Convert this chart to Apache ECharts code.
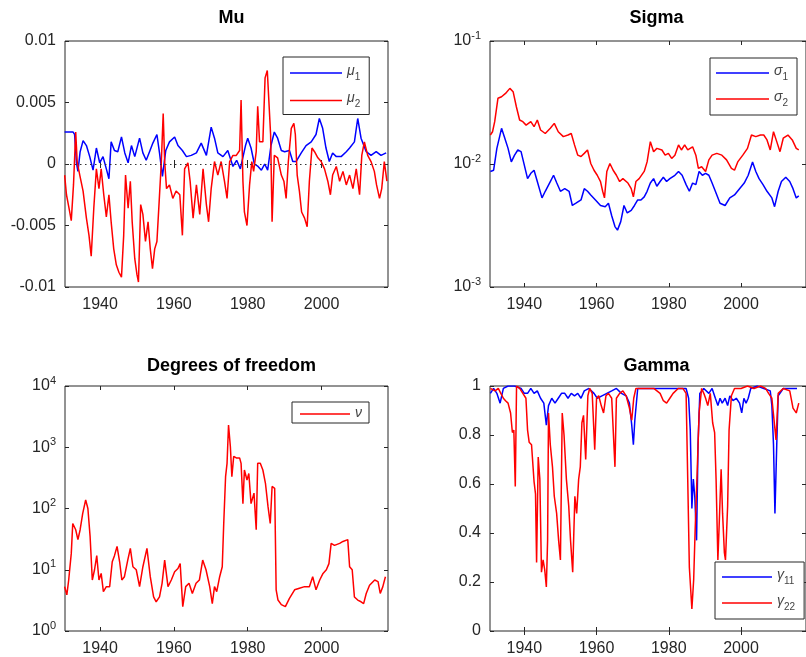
<!DOCTYPE html>
<html>
<head>
<meta charset="utf-8">
<script src="https://cdn.jsdelivr.net/npm/echarts@6/dist/echarts.min.js"></script>
<style>
html, body { margin: 0; padding: 0; background: #fff; }
#chart { width: 806px; height: 657px; }
</style>
</head>
<body>
<div id="chart"></div>
<script>
// x 轴刻度
const yearTicks = [1940, 1960, 1980, 2000]

// Mu
const mu1 = [[1930.4,0.0026],[1932.7,0.0026],[1933.1,0.0024],[1933.6,0.0001],[1934.0,-0.0006],[1934.6,0.0010],[1935.4,0.0019],[1936.3,0.0015],[1937.2,0.0006],[1938.1,-0.0005],[1939.0,0.0013],[1939.9,0.0001],[1940.8,0.0006],[1941.7,-0.0004],[1942.4,-0.0012],[1943.0,0.0018],[1943.9,0.0011],[1944.8,0.0010],[1945.8,0.0022],[1946.7,0.0009],[1947.6,0.0001],[1948.5,0.0015],[1949.4,0.0006],[1950.7,0.0021],[1951.6,0.0009],[1952.5,0.0003],[1953.4,0.0010],[1954.3,0.0017],[1955.4,0.0024],[1956.1,0.0009],[1956.9,-0.0010],[1957.8,0.0011],[1958.8,0.0018],[1960.2,0.0022],[1961.1,0.0015],[1962.3,0.0011],[1963.4,0.0006],[1964.7,0.0007],[1966.1,0.0009],[1967.4,0.0017],[1968.8,0.0007],[1970.1,0.0030],[1971.0,0.0021],[1971.9,0.0009],[1973.3,0.0006],[1974.6,0.0011],[1975.1,0.0010],[1976.0,-0.0002],[1977.0,0.0003],[1978.0,-0.0004],[1979.4,0.0015],[1980.0,0.0021],[1980.9,0.0013],[1981.8,0.0000],[1982.8,-0.0002],[1983.7,-0.0005],[1984.6,0.0000],[1985.4,-0.0005],[1986.3,0.0015],[1987.2,0.0026],[1988.1,0.0021],[1989.1,0.0011],[1990.0,0.0010],[1991.3,0.0011],[1992.2,0.0002],[1993.1,0.0002],[1994.5,0.0009],[1995.8,0.0015],[1997.2,0.0018],[1998.5,0.0024],[1999.4,0.0037],[2000.3,0.0029],[2001.2,0.0013],[2002.1,0.0002],[2003.0,0.0009],[2004.0,0.0006],[2005.3,0.0006],[2006.7,0.0010],[2007.6,0.0013],[2008.9,0.0018],[2009.8,0.0037],[2010.7,0.0021],[2012.1,0.0010],[2013.4,0.0007],[2014.8,0.0010],[2016.1,0.0007],[2017.5,0.0009]]
const mu2 = [[1930.4,-0.0009],[1930.9,-0.0025],[1931.6,-0.0036],[1932.2,-0.0046],[1932.8,-0.0017],[1933.4,0.0026],[1933.8,0.0002],[1934.5,-0.0009],[1935.4,-0.0022],[1936.3,-0.0044],[1937.0,-0.0058],[1937.6,-0.0075],[1938.3,-0.0036],[1939.0,-0.0004],[1939.7,-0.0020],[1940.3,-0.0004],[1941.0,-0.0025],[1941.7,-0.0043],[1942.4,-0.0025],[1943.0,-0.0047],[1943.7,-0.0069],[1944.4,-0.0082],[1945.1,-0.0088],[1945.8,-0.0092],[1946.4,-0.0058],[1946.9,-0.0009],[1947.6,-0.0036],[1948.2,-0.0014],[1948.7,-0.0047],[1949.4,-0.0077],[1950.0,-0.0090],[1950.4,-0.0096],[1951.0,-0.0033],[1951.6,-0.0041],[1952.3,-0.0063],[1953.0,-0.0047],[1953.6,-0.0069],[1954.2,-0.0085],[1954.8,-0.0069],[1955.4,-0.0063],[1956.0,-0.0031],[1956.6,0.0002],[1957.1,0.0041],[1957.5,0.0002],[1958.0,-0.0020],[1958.8,-0.0017],[1959.7,-0.0028],[1960.6,-0.0022],[1961.6,-0.0025],[1962.3,-0.0058],[1962.9,-0.0004],[1963.8,0.0001],[1964.4,-0.0014],[1965.2,-0.0044],[1966.1,-0.0017],[1967.0,-0.0041],[1967.9,-0.0004],[1968.8,-0.0033],[1969.4,-0.0047],[1970.1,-0.0020],[1971.0,0.0002],[1971.9,-0.0009],[1972.8,0.0002],[1973.7,-0.0014],[1974.4,-0.0028],[1975.1,0.0002],[1976.0,0.0007],[1976.9,0.0007],[1977.8,0.0011],[1978.2,0.0052],[1978.7,-0.0014],[1979.1,-0.0039],[1979.8,-0.0050],[1980.5,-0.0017],[1981.1,0.0002],[1981.6,-0.0006],[1982.3,0.0010],[1982.7,0.0047],[1983.2,0.0018],[1984.1,0.0018],[1984.7,0.0070],[1985.3,0.0076],[1985.8,0.0076],[1986.2,0.0024],[1986.6,-0.0047],[1987.2,0.0007],[1988.1,0.0005],[1989.1,-0.0009],[1989.8,-0.0014],[1990.4,-0.0028],[1991.0,0.0002],[1991.8,0.0029],[1992.5,0.0033],[1992.9,0.0024],[1993.4,-0.0009],[1994.0,-0.0022],[1994.6,-0.0039],[1995.4,-0.0044],[1996.1,-0.0051],[1996.7,-0.0014],[1997.4,0.0013],[1998.1,0.0010],[1999.0,0.0005],[1999.9,0.0002],[2000.8,-0.0004],[2001.7,-0.0014],[2002.4,-0.0025],[2003.0,-0.0009],[2004.0,-0.0002],[2004.9,-0.0014],[2005.8,-0.0006],[2006.7,-0.0017],[2007.6,-0.0009],[2008.5,-0.0020],[2009.4,-0.0004],[2010.3,-0.0025],[2010.9,0.0007],[2011.6,0.0018],[2012.5,0.0007],[2013.4,0.0002],[2014.3,-0.0006],[2014.9,-0.0017],[2015.7,-0.0028],[2016.3,-0.0020],[2017.0,0.0002],[2017.7,-0.0014]]

// Sigma
const sigma1 = [[1930.6,0.0087],[1931.5,0.0089],[1932.4,0.0134],[1933.7,0.0195],[1934.6,0.0162],[1935.5,0.0134],[1936.4,0.0104],[1937.3,0.0118],[1938.2,0.0130],[1939.1,0.0126],[1940.0,0.0098],[1940.9,0.0076],[1941.8,0.0084],[1942.7,0.0089],[1943.6,0.0072],[1944.9,0.0053],[1945.8,0.0060],[1947.2,0.0072],[1948.1,0.0081],[1949.0,0.0070],[1950.0,0.0060],[1951.2,0.0063],[1952.4,0.0060],[1953.3,0.0046],[1954.3,0.0048],[1955.7,0.0051],[1956.6,0.0063],[1957.5,0.0060],[1958.4,0.0056],[1959.7,0.0051],[1961.1,0.0046],[1962.4,0.0045],[1963.3,0.0048],[1964.2,0.0038],[1965.1,0.0031],[1965.8,0.0029],[1966.7,0.0034],[1967.6,0.0046],[1968.5,0.0040],[1969.6,0.0042],[1970.5,0.0046],[1971.4,0.0051],[1972.3,0.0051],[1973.2,0.0054],[1974.0,0.0060],[1974.9,0.0070],[1975.8,0.0076],[1976.7,0.0066],[1977.6,0.0072],[1978.5,0.0078],[1979.4,0.0072],[1980.3,0.0076],[1981.7,0.0081],[1982.7,0.0087],[1983.7,0.0081],[1984.8,0.0068],[1985.7,0.0060],[1986.6,0.0070],[1987.5,0.0068],[1988.4,0.0087],[1989.3,0.0081],[1990.2,0.0084],[1991.1,0.0081],[1992.0,0.0070],[1992.9,0.0060],[1994.2,0.0048],[1995.6,0.0046],[1996.9,0.0053],[1998.2,0.0056],[1999.6,0.0063],[2000.9,0.0070],[2002.0,0.0081],[2003.2,0.0104],[2004.1,0.0087],[2005.0,0.0076],[2006.1,0.0068],[2007.2,0.0060],[2008.55,0.0053],[2009.3,0.0045],[2010.3,0.0060],[2011.2,0.0072],[2012.4,0.0078],[2013.5,0.0072],[2014.4,0.0063],[2015.3,0.0053],[2016.0,0.0055]]
const sigma2 = [[1930.6,0.0172],[1931.2,0.0183],[1931.8,0.0221],[1932.7,0.0342],[1933.7,0.0352],[1934.8,0.0375],[1936.0,0.0412],[1936.9,0.0387],[1937.8,0.0292],[1938.7,0.0228],[1939.6,0.0221],[1940.5,0.0207],[1941.8,0.0221],[1942.7,0.0201],[1943.6,0.0228],[1944.5,0.0189],[1945.8,0.0177],[1947.2,0.0195],[1948.3,0.0214],[1949.4,0.0183],[1950.8,0.0167],[1952.1,0.0172],[1953.0,0.0177],[1953.9,0.0143],[1954.8,0.0118],[1955.7,0.0115],[1956.6,0.0122],[1957.5,0.0130],[1958.4,0.0101],[1959.3,0.0089],[1960.2,0.0081],[1961.1,0.0072],[1961.7,0.0060],[1962.2,0.0053],[1962.85,0.0087],[1963.7,0.0101],[1964.6,0.0089],[1965.5,0.0081],[1966.4,0.0072],[1967.3,0.0076],[1968.7,0.0070],[1969.6,0.0063],[1970.2,0.0054],[1970.9,0.0072],[1971.8,0.0076],[1973.2,0.0087],[1974.0,0.0104],[1974.9,0.0152],[1975.8,0.0126],[1976.7,0.0134],[1978.1,0.0130],[1979.0,0.0118],[1979.9,0.0122],[1980.8,0.0111],[1981.7,0.0118],[1982.7,0.0143],[1983.5,0.0130],[1984.4,0.0143],[1985.25,0.0130],[1986.6,0.0138],[1987.5,0.0118],[1988.2,0.0092],[1989.1,0.0095],[1990.2,0.0087],[1991.1,0.0108],[1992.0,0.0118],[1993.3,0.0122],[1994.7,0.0118],[1996.0,0.0108],[1997.35,0.0092],[1998.2,0.0089],[1999.1,0.0104],[2000.5,0.0118],[2001.8,0.0134],[2002.9,0.0172],[2004.1,0.0167],[2005.4,0.0172],[2006.3,0.0172],[2007.2,0.0157],[2008.1,0.0130],[2009.0,0.0183],[2009.9,0.0152],[2010.8,0.0126],[2011.7,0.0162],[2013.0,0.0172],[2014.2,0.0157],[2015.3,0.0134],[2016.0,0.0130]]

// Degrees of freedom
const nu = [[1930.4,5.3],[1931.0,3.9],[1931.5,6.8],[1932.2,18.5],[1932.6,57],[1933.4,45],[1934.0,31],[1934.6,45],[1935.3,83],[1936.1,138],[1936.7,100],[1937.3,35],[1937.9,6.8],[1938.5,10],[1939.1,17],[1939.7,6.8],[1940.3,8.7],[1940.9,4.4],[1941.7,5.3],[1942.6,5.3],[1943.3,13.5],[1943.9,17],[1944.6,24],[1945.3,13.5],[1945.9,6.8],[1946.6,7.7],[1947.5,14.4],[1948.2,22.4],[1948.9,11.2],[1949.8,10],[1950.7,5.3],[1951.6,11.2],[1952.7,22.4],[1953.6,7.7],[1954.5,3.6],[1955.2,3.0],[1956.1,3.6],[1956.8,6.0],[1957.5,14.4],[1958.4,5.3],[1959.3,6.8],[1960.2,9.3],[1961.1,10.5],[1961.7,12.6],[1962.4,2.5],[1963.2,5.3],[1964.1,6.0],[1965.0,4.1],[1966.0,6.0],[1966.9,6.8],[1967.8,14.4],[1968.7,10],[1969.7,5.3],[1970.4,2.8],[1971.0,5.3],[1971.6,4.4],[1972.4,7.7],[1973.1,11.2],[1973.5,57],[1974.0,331],[1974.4,546],[1974.8,2300],[1975.3,1020],[1975.7,331],[1976.2,710],[1976.9,670],[1977.8,670],[1978.2,546],[1978.7,120],[1979.1,425],[1979.8,292],[1980.3,372],[1980.9,120],[1981.7,178],[1982.3,45],[1982.7,546],[1983.4,546],[1984.1,425],[1984.8,258],[1985.5,107],[1986.1,57],[1986.6,229],[1987.3,214],[1987.7,4.7],[1988.2,3.2],[1989.1,2.7],[1990.2,2.5],[1991.3,3.4],[1992.7,4.7],[1994.0,5.0],[1995.4,5.3],[1996.7,5.3],[1997.6,7.7],[1998.5,4.7],[1999.5,6.8],[2000.4,8.7],[2001.3,10],[2002.0,12.6],[2002.6,27],[2003.5,25],[2004.9,27],[2005.8,29],[2007.1,31],[2007.6,11.2],[2008.3,10],[2008.9,3.6],[2009.8,3.2],[2010.7,3.0],[2011.4,2.8],[2012.1,4.1],[2013.0,5.6],[2014.4,6.8],[2015.3,6.4],[2015.9,4.1],[2016.6,5.3],[2017.3,7.7]]

// Gamma
const gamma11 = [[1930.6,0.97],[1931.5,0.99],[1932.4,0.97],[1933.3,0.93],[1934.2,0.99],[1935.5,1.0],[1937.3,1.0],[1939.1,0.99],[1940.0,0.97],[1940.9,0.97],[1941.8,0.99],[1942.7,0.97],[1943.6,0.98],[1944.5,0.95],[1945.4,0.93],[1946.1,0.84],[1946.7,0.92],[1947.6,0.95],[1948.5,0.93],[1949.4,0.95],[1950.3,0.97],[1951.2,0.97],[1952.1,0.95],[1953.0,0.97],[1953.9,0.96],[1954.8,0.97],[1955.7,0.95],[1956.6,0.98],[1957.9,0.99],[1959.3,0.97],[1960.2,0.95],[1961.5,0.96],[1962.85,0.97],[1964.2,0.98],[1965.5,0.99],[1966.9,0.97],[1968.2,0.96],[1969.1,0.93],[1969.75,0.84],[1970.2,0.76],[1970.6,0.86],[1971.4,0.99],[1972.7,0.99],[1976.7,0.99],[1981.2,0.99],[1984.8,0.99],[1985.5,0.95],[1985.95,0.82],[1986.4,0.50],[1986.8,0.62],[1987.2,0.55],[1987.7,0.37],[1988.1,0.76],[1988.6,0.97],[1989.7,0.99],[1991.1,0.97],[1992.0,0.99],[1992.9,0.95],[1993.6,0.92],[1994.2,0.95],[1994.8,0.93],[1995.6,0.95],[1996.3,0.92],[1996.9,0.96],[1997.8,0.94],[1998.7,0.95],[1999.6,0.93],[2000.2,0.89],[2000.8,0.95],[2001.4,0.93],[2002.0,0.95],[2002.7,0.99],[2004.5,1.0],[2006.3,0.99],[2008.1,0.98],[2008.55,0.92],[2009.0,0.76],[2009.4,0.48],[2009.9,0.76],[2010.3,0.96],[2011.7,0.99],[2013.5,0.99],[2015.5,0.99]]
const gamma22 = [[1930.6,0.99],[1931.9,0.98],[1932.8,0.99],[1933.5,0.97],[1934.2,0.95],[1934.8,0.94],[1935.5,0.93],[1936.2,0.89],[1936.7,0.81],[1937.1,0.82],[1937.5,0.59],[1937.85,1.0],[1938.7,0.99],[1939.6,0.97],[1940.45,0.95],[1940.9,0.82],[1941.35,0.77],[1942.0,0.76],[1942.7,0.61],[1943.1,0.56],[1943.4,0.28],[1943.85,0.71],[1944.3,0.62],[1944.75,0.24],[1945.2,0.29],[1945.65,0.25],[1946.1,0.18],[1946.45,0.37],[1946.7,0.89],[1947.2,0.76],[1947.8,0.67],[1948.3,0.55],[1948.95,0.48],[1949.5,0.37],[1950.0,0.29],[1950.5,0.89],[1951.0,0.80],[1951.65,0.62],[1952.3,0.51],[1952.8,0.37],[1953.4,0.24],[1954.0,0.55],[1954.5,0.48],[1955.05,0.62],[1955.5,0.67],[1955.95,0.85],[1956.4,0.88],[1957.0,0.70],[1957.6,0.96],[1958.1,0.99],[1958.8,0.97],[1959.5,0.74],[1960.0,0.95],[1960.6,0.96],[1961.3,0.92],[1961.95,0.89],[1962.6,0.96],[1963.3,0.97],[1964.2,0.95],[1965.1,0.67],[1965.5,0.95],[1966.4,0.97],[1967.3,0.98],[1968.2,0.96],[1969.1,0.91],[1969.75,0.86],[1970.3,0.95],[1970.9,0.99],[1971.8,0.99],[1972.3,0.99],[1974.1,0.99],[1975.85,0.99],[1977.6,0.97],[1978.5,0.94],[1979.4,0.93],[1980.3,0.95],[1981.2,0.97],[1982.6,0.99],[1983.9,0.99],[1984.8,0.97],[1985.25,0.62],[1985.7,0.26],[1986.15,0.15],[1986.4,0.09],[1986.9,0.21],[1987.3,0.41],[1987.8,0.62],[1988.4,0.89],[1989.1,0.99],[1989.7,0.97],[1990.2,0.95],[1990.8,0.92],[1991.5,0.97],[1992.15,0.85],[1992.7,0.81],[1993.1,0.62],[1993.6,0.29],[1994.0,0.45],[1994.5,0.66],[1994.9,0.48],[1995.4,0.32],[1995.7,0.29],[1996.3,0.51],[1996.7,0.82],[1997.35,0.96],[1998.2,0.99],[2000.0,0.99],[2001.8,1.0],[2003.6,0.99],[2005.4,1.0],[2006.8,0.99],[2007.65,0.97],[2008.55,0.95],[2009.7,0.78],[2010.3,0.97],[2011.7,0.99],[2013.5,0.98],[2014.4,0.91],[2015.3,0.89],[2016.0,0.93]]

const font = "'Liberation Sans', Arial, Helvetica, sans-serif"
const ink = '#262626'
const blue = '#0000ff'
const red = '#ff0000'

const grids = [
  { left: 65, top: 41, width: 323, height: 246 },
  { left: 490, top: 41, width: 323, height: 246 },
  { left: 65, top: 386, width: 323, height: 245 },
  { left: 490, top: 386, width: 323, height: 245 }
]

let logLabel = value => {
  const e = Math.round(Math.log10(value))
  return `{b|10}{s|${e}}`
}
const logRich = {
  b: { fontSize: 16, lineHeight: 22, color: ink, fontFamily: font },
  s: { fontSize: 11, lineHeight: 11, verticalAlign: 'top', color: ink, fontFamily: font }
}

const yScales = [
  { type: 'value', min: -0.01, max: 0.01, interval: 0.005 },
  { type: 'log', min: 0.001, max: 0.1, logBase: 10, formatter: logLabel },
  { type: 'log', min: 1, max: 10000, logBase: 10, formatter: logLabel },
  { type: 'value', min: 0, max: 1, interval: 0.2 }
]

const xAxis = []
const yAxis = []
grids.forEach((g, i) => {
  ;['bottom', 'top'].forEach(pos => {
    xAxis.push({
      type: 'value',
      gridIndex: i,
      position: pos,
      min: 1930.5,
      max: 2018,
      axisLine: { show: false },
      splitLine: { show: false },
      axisTick: { inside: true, length: 4, lineStyle: { color: ink }, customValues: yearTicks },
      axisLabel: {
        show: pos === 'bottom',
        customValues: yearTicks,
        formatter: v => String(v),
        color: ink,
        fontSize: 16,
        fontFamily: font,
        margin: 10
      }
    })
  })
  const s = yScales[i]
  ;['left', 'right'].forEach(pos => {
    const axis = {
      type: s.type,
      gridIndex: i,
      position: pos,
      min: s.min,
      max: s.max,
      axisLine: { show: false },
      splitLine: { show: false },
      minorTick: { show: false },
      axisTick: { inside: true, length: 4, lineStyle: { color: ink } },
      axisLabel: {
        show: pos === 'left',
        color: ink,
        fontSize: 16,
        fontFamily: font,
        margin: 9
      }
    }
    if (s.interval) axis.interval = s.interval
    if (s.logBase) axis.logBase = s.logBase
    if (s.formatter) {
      axis.axisLabel.formatter = s.formatter
      axis.axisLabel.rich = logRich
    }
    yAxis.push(axis)
  })
})

const legendNames = {
  mu1: '{g|μ}{s|1}',
  mu2: '{g|μ}{s|2}',
  sigma1: '{g|σ}{s|1}',
  sigma2: '{g|σ}{s|2}',
  nu: '{g|ν}',
  gamma11: '{g|γ}{s|11}',
  gamma22: '{g|γ}{s|22}'
}
let legendBox = (names, left, top, padding, itemGap, itemWidth) => ({
  data: names,
  left,
  top,
  orient: 'vertical',
  padding,
  itemGap,
  itemWidth,
  itemHeight: 1.5,
  icon: 'rect',
  selectedMode: false,
  backgroundColor: '#fff',
  borderColor: ink,
  borderWidth: 1,
  borderRadius: 0,
  formatter: name => legendNames[name],
  textStyle: {
    rich: {
      g: { fontSize: 14, lineHeight: 16, verticalAlign: 'top', color: '#444', fontFamily: font, fontStyle: 'italic' },
      s: { fontSize: 10, lineHeight: 18, verticalAlign: 'bottom', color: '#444', fontFamily: font }
    }
  }
})

let lineSeries = (name, data, color, idx, extra) =>
  Object.assign(
    {
      name,
      type: 'line',
      data,
      xAxisIndex: idx * 2,
      yAxisIndex: idx * 2,
      symbol: 'none',
      showSymbol: false,
      lineStyle: { color, width: 1.5 },
      itemStyle: { color },
      animation: false
    },
    extra || {}
  )

const titleStyle = { fontSize: 18, fontWeight: 'bold', color: '#000', fontFamily: font }

const option = {
  backgroundColor: '#fff',
  animation: false,
  title: [
    { text: 'Mu', left: 226.5, top: 4, textAlign: 'center', textStyle: titleStyle },
    { text: 'Sigma', left: 651.5, top: 4, textAlign: 'center', textStyle: titleStyle },
    { text: 'Degrees of freedom', left: 226.5, top: 352, textAlign: 'center', textStyle: titleStyle },
    { text: 'Gamma', left: 651.5, top: 352, textAlign: 'center', textStyle: titleStyle }
  ],
  grid: grids.map(g => Object.assign({ show: true, borderColor: ink, borderWidth: 1, backgroundColor: 'transparent' }, g)),
  xAxis,
  yAxis,
  legend: [
    legendBox(['mu1', 'mu2'], 283, 57, [7, 9, 5, 7], 9.5, 52),
    legendBox(['sigma1', 'sigma2'], 710, 58, [6, 9, 7, 6], 8, 53),
    legendBox(['nu'], 292, 402, [4, 7, 3, 8], 8, 50),
    legendBox(['gamma11', 'gamma22'], 715, 562, [6, 9, 7, 7], 8, 50)
  ],
  series: [
    lineSeries('mu1', mu1, blue, 0, {
      markLine: {
        silent: true,
        symbol: 'none',
        label: { show: false },
        lineStyle: { color: '#333', type: [1.5, 3.5], width: 1 },
        data: [{ yAxis: 0 }]
      }
    }),
    lineSeries('mu2', mu2, red, 0),
    lineSeries('sigma1', sigma1, blue, 1),
    lineSeries('sigma2', sigma2, red, 1),
    lineSeries('nu', nu, red, 2),
    lineSeries('gamma11', gamma11, blue, 3),
    lineSeries('gamma22', gamma22, red, 3)
  ]
}

const chart = echarts.init(document.getElementById('chart'))
chart.setOption(option)
</script>
</body>
</html>
